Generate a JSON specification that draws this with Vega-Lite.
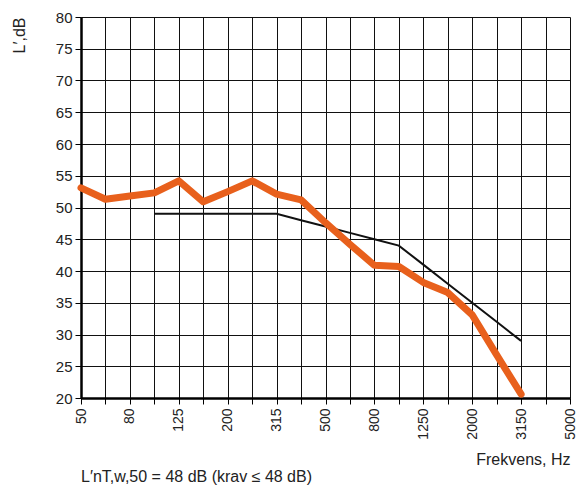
{
  "$schema": "https://vega.github.io/schema/vega-lite/v6.json",
  "width": 489,
  "height": 381,
  "autosize": "none",
  "padding": {"left": 81, "top": 17, "right": 6, "bottom": 95},
  "background": "white",
  "config": {
    "font": "Liberation Sans",
    "view": {"stroke": null},
    "axis": {"labelFont": "Liberation Sans", "titleFont": "Liberation Sans", "labelColor": "#222", "titleColor": "#222"}
  },
  "title": {
    "text": "L′nT,w,50 = 48 dB (krav ≤ 48 dB)",
    "orient": "bottom",
    "anchor": "start",
    "frame": "group",
    "fontSize": 16,
    "fontWeight": "normal",
    "color": "#222",
    "offset": 2
  },
  "datasets": {
    "measured": [
      {"f": 50, "L": 53.1}, {"f": 63, "L": 51.3}, {"f": 80, "L": 51.8}, {"f": 100, "L": 52.3},
      {"f": 125, "L": 54.2}, {"f": 160, "L": 50.9}, {"f": 200, "L": 52.5}, {"f": 250, "L": 54.2},
      {"f": 315, "L": 52.1}, {"f": 400, "L": 51.2}, {"f": 500, "L": 47.6}, {"f": 630, "L": 44.2},
      {"f": 800, "L": 40.9}, {"f": 1000, "L": 40.7}, {"f": 1250, "L": 38.2}, {"f": 1600, "L": 36.6},
      {"f": 2000, "L": 33.1}, {"f": 2500, "L": 26.8}, {"f": 3150, "L": 20.6}
    ],
    "reference": [
      {"f": 100, "L": 49}, {"f": 125, "L": 49}, {"f": 160, "L": 49}, {"f": 200, "L": 49},
      {"f": 250, "L": 49}, {"f": 315, "L": 49}, {"f": 400, "L": 48}, {"f": 500, "L": 47},
      {"f": 630, "L": 46}, {"f": 800, "L": 45}, {"f": 1000, "L": 44}, {"f": 1250, "L": 41},
      {"f": 1600, "L": 38}, {"f": 2000, "L": 35}, {"f": 2500, "L": 32}, {"f": 3150, "L": 29}
    ]
  },
  "encoding": {
    "x": {
      "field": "f",
      "type": "ordinal",
      "scale": {
        "type": "point",
        "padding": 0,
        "domain": [50, 63, 80, 100, 125, 160, 200, 250, 315, 400, 500, 630, 800, 1000, 1250, 1600, 2000, 2500, 3150, 4000, 5000]
      },
      "axis": {
        "title": "Frekvens, Hz",
        "titleFontSize": 16,
        "titleFontWeight": "normal",
        "titleAnchor": "end",
        "titleAlign": "right",
        "titlePadding": 12,
        "labelAngle": -90,
        "labelFontSize": 14,
        "labelPadding": 4,
        "labelExpr": "indexof(['50','80','125','200','315','500','800','1250','2000','3150','5000'], datum.label) >= 0 ? datum.label : ''",
        "grid": true,
        "gridColor": "#111",
        "gridOpacity": 1,
        "gridWidth": 1,
        "domainColor": "#000",
        "domainWidth": 2.5,
        "tickColor": "#000",
        "tickSize": 6,
        "tickWidth": 1
      }
    },
    "y": {
      "field": "L",
      "type": "quantitative",
      "scale": {"domain": [20, 80], "nice": false, "zero": false},
      "axis": {
        "title": "L′,dB",
        "titleFontSize": 16,
        "titleFontWeight": "normal",
        "titleAnchor": "end",
        "titlePadding": 28,
        "values": [20, 25, 30, 35, 40, 45, 50, 55, 60, 65, 70, 75, 80],
        "labelFontSize": 15,
        "labelPadding": 3,
        "grid": true,
        "gridColor": "#111",
        "gridOpacity": 1,
        "gridWidth": 1,
        "domainColor": "#000",
        "domainWidth": 2.5,
        "tickColor": "#000",
        "tickSize": 6,
        "tickWidth": 1
      }
    }
  },
  "layer": [
    {
      "data": {"name": "reference"},
      "mark": {"type": "line", "color": "#111", "strokeWidth": 2}
    },
    {
      "data": {"name": "measured"},
      "mark": {"type": "line", "color": "#E8601C", "strokeWidth": 7, "strokeJoin": "round", "strokeCap": "round"}
    }
  ]
}
